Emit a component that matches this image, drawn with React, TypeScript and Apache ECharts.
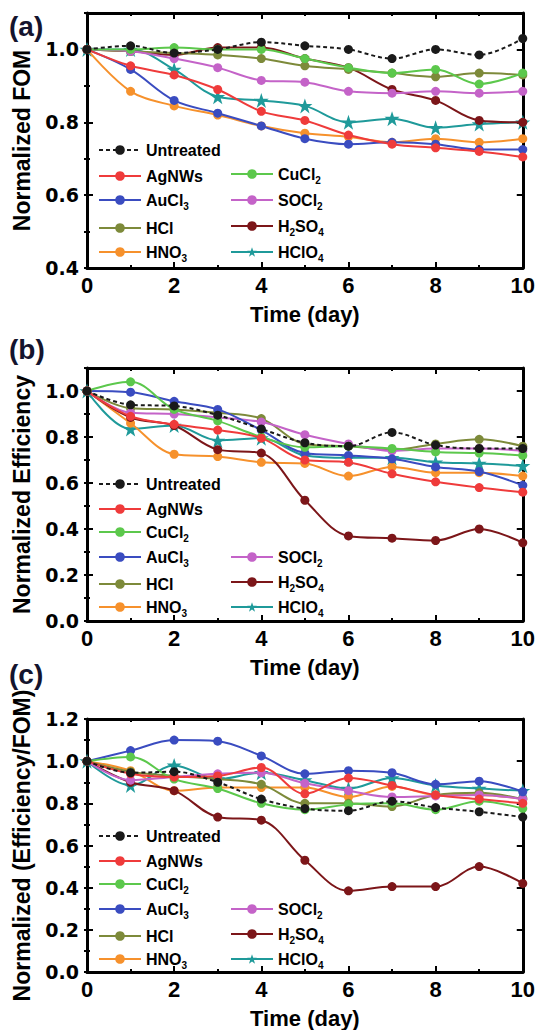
import React, { useEffect, useRef } from 'react';
import * as echarts from 'echarts';

const days = [0, 1, 2, 3, 4, 5, 6, 7, 8, 9, 10];
const xTickLabels = ['0', '2', '4', '6', '8', '10'];
const yTicksA = [0.4, 0.6, 0.8, 1.0];
const yTicksB = [0.0, 0.2, 0.4, 0.6, 0.8, 1.0];
const yTicksC = [0.0, 0.2, 0.4, 0.6, 0.8, 1.0, 1.2];

const seriesNames = ['Untreated', 'AgNWs', 'CuCl2', 'AuCl3', 'SOCl2', 'HCl', 'H2SO4', 'HNO3', 'HClO4'];
const seriesColors = ['#1a1a1a', '#ef3b3b', '#5cc84c', '#3a4cc0', '#c463c8', '#7d8a3a', '#7c1619', '#f6912c', '#1f9a9a'];

// (a) Normalized FOM
const fomUntreated = [1.0, 1.01, 0.99, 1.0, 1.02, 1.01, 1.0, 0.975, 1.0, 0.985, 1.03];
const fomAgNWs = [1.0, 0.955, 0.93, 0.89, 0.83, 0.805, 0.765, 0.74, 0.73, 0.72, 0.705];
const fomCuCl2 = [1.0, 1.0, 1.005, 1.0, 1.0, 0.975, 0.95, 0.935, 0.945, 0.905, 0.935];
const fomAuCl3 = [1.0, 0.945, 0.86, 0.825, 0.79, 0.755, 0.74, 0.745, 0.74, 0.725, 0.725];
const fomSOCl2 = [1.0, 0.995, 0.975, 0.95, 0.915, 0.91, 0.885, 0.88, 0.885, 0.88, 0.885];
const fomHCl = [1.0, 0.995, 0.99, 0.985, 0.975, 0.955, 0.945, 0.935, 0.925, 0.935, 0.93];
const fomH2SO4 = [1.0, 0.995, 0.985, 1.005, 1.005, 0.975, 0.95, 0.89, 0.86, 0.805, 0.8];
const fomHNO3 = [1.0, 0.885, 0.845, 0.82, 0.79, 0.77, 0.76, 0.745, 0.755, 0.745, 0.755];
const fomHClO4 = [1.0, 1.0, 0.945, 0.87, 0.86, 0.845, 0.8, 0.81, 0.785, 0.795, 0.8];

// (b) Normalized Efficiency
const effUntreated = [1.0, 0.94, 0.935, 0.895, 0.835, 0.775, 0.76, 0.82, 0.765, 0.75, 0.75];
const effAgNWs = [1.0, 0.89, 0.855, 0.83, 0.795, 0.7, 0.69, 0.64, 0.605, 0.58, 0.56];
const effCuCl2 = [1.0, 1.04, 0.92, 0.87, 0.8, 0.755, 0.76, 0.75, 0.735, 0.73, 0.72];
const effAuCl3 = [1.0, 0.995, 0.955, 0.92, 0.83, 0.73, 0.72, 0.705, 0.67, 0.65, 0.59];
const effSOCl2 = [1.0, 0.905, 0.9, 0.885, 0.865, 0.81, 0.77, 0.74, 0.75, 0.75, 0.74];
const effHCl = [1.0, 0.925, 0.92, 0.905, 0.88, 0.77, 0.76, 0.745, 0.77, 0.79, 0.76];
const effH2SO4 = [1.0, 0.885, 0.85, 0.745, 0.73, 0.525, 0.37, 0.36, 0.35, 0.4, 0.34];
const effHNO3 = [1.0, 0.86, 0.725, 0.715, 0.69, 0.685, 0.63, 0.67, 0.645, 0.645, 0.63];
const effHClO4 = [1.0, 0.835, 0.85, 0.785, 0.795, 0.72, 0.71, 0.71, 0.69, 0.685, 0.675];

// (c) Normalized (Efficiency/FOM)
const ratUntreated = [1.0, 0.945, 0.95, 0.9, 0.82, 0.775, 0.765, 0.81, 0.78, 0.76, 0.735];
const ratAgNWs = [1.0, 0.94, 0.925, 0.93, 0.97, 0.845, 0.92, 0.885, 0.84, 0.82, 0.8];
const ratCuCl2 = [1.0, 1.02, 0.915, 0.87, 0.8, 0.77, 0.795, 0.8, 0.77, 0.81, 0.775];
const ratAuCl3 = [1.0, 1.05, 1.1, 1.095, 1.025, 0.94, 0.955, 0.945, 0.89, 0.905, 0.855];
const ratSOCl2 = [1.0, 0.91, 0.925, 0.94, 0.945, 0.895, 0.86, 0.83, 0.835, 0.84, 0.82];
const ratHCl = [1.0, 0.95, 0.93, 0.915, 0.89, 0.8, 0.8, 0.785, 0.84, 0.85, 0.82];
const ratH2SO4 = [1.0, 0.9, 0.86, 0.735, 0.72, 0.53, 0.385, 0.405, 0.405, 0.5, 0.42];
const ratHNO3 = [1.0, 0.955, 0.86, 0.875, 0.875, 0.875, 0.83, 0.88, 0.84, 0.84, 0.82];
const ratHClO4 = [1.0, 0.885, 0.98, 0.915, 0.945, 0.91, 0.87, 0.92, 0.885, 0.87, 0.86];

const panelValues = [
  [fomUntreated, fomAgNWs, fomCuCl2, fomAuCl3, fomSOCl2, fomHCl, fomH2SO4, fomHNO3, fomHClO4],
  [effUntreated, effAgNWs, effCuCl2, effAuCl3, effSOCl2, effHCl, effH2SO4, effHNO3, effHClO4],
  [ratUntreated, ratAgNWs, ratCuCl2, ratAuCl3, ratSOCl2, ratHCl, ratH2SO4, ratHNO3, ratHClO4],
];

// legend layout: [name, column, row]
const legendA: [string, number, number][] = [
  ['Untreated', 0, 0], ['AgNWs', 0, 1], ['CuCl2', 1, 1], ['AuCl3', 0, 2], ['SOCl2', 1, 2],
  ['HCl', 0, 3], ['H2SO4', 1, 3], ['HNO3', 0, 4], ['HClO4', 1, 4],
];
const legendBC: [string, number, number][] = [
  ['Untreated', 0, 0], ['AgNWs', 0, 1], ['CuCl2', 0, 2], ['AuCl3', 0, 3], ['SOCl2', 1, 3],
  ['HCl', 0, 4], ['H2SO4', 1, 4], ['HNO3', 0, 5], ['HClO4', 1, 5],
];

const FONT = '"Liberation Sans", Arial, Helvetica, sans-serif';
const TICKFONT = '"DejaVu Sans", "Liberation Sans", sans-serif';
const STAR = 'path://M50,2 L61.8,36.2 L97.6,36.2 L68.6,57.4 L79.6,92 L50,70.6 L20.4,92 L31.4,57.4 L2.4,36.2 L38.2,36.2 Z';

const richName: Record<string, string> = {
  Untreated: '{n|Untreated}',
  AgNWs: '{n|AgNWs}',
  CuCl2: '{n|CuCl}{s|2}',
  AuCl3: '{n|AuCl}{s|3}',
  SOCl2: '{n|SOCl}{s|2}',
  HCl: '{n|HCl}',
  H2SO4: '{n|H}{s|2}{n|SO}{s|4}',
  HNO3: '{n|HNO}{s|3}',
  HClO4: '{n|HClO}{s|4}',
};

const panels = [
  { top: 13, height: 255, min: 0.4, max: 1.1, ticks: yTicksA, yName: 'Normalized FOM', label: '(a)', labelY: 27,
    legendItems: legendA, rowY0: 150, rowStep: 26 },
  { top: 368, height: 253, min: 0, max: 1.1, ticks: yTicksB, yName: 'Normalized Efficiency', label: '(b)', labelY: 350,
    legendItems: legendBC, rowY0: 484, rowStep: 25 },
  { top: 719, height: 256, min: 0, max: 1.2, ticks: yTicksC, yName: 'Normalized (Efficiency/FOM)', label: '(c)', labelY: 675,
    legendItems: legendBC, rowY0: 836, rowStep: 25 },
];
const legendColLeft = [98, 230];

function buildOption() {
  const grid: any[] = [];
  const xAxis: any[] = [];
  const yAxis: any[] = [];
  const series: any[] = [];
  const legend: any[] = [];
  const graphic: any[] = [];
  const tickStyle = { color: '#000', width: 2 };
  const lineStyle = { color: '#000', width: 3 };

  panels.forEach((p, gi) => {
    grid.push({ left: 87, right: 15, top: p.top, height: p.height, show: false });
    const xBase = {
      gridIndex: gi, type: 'value', min: 0, max: 10, interval: 2,
      axisLine: { show: true, onZero: false, lineStyle },
      axisTick: { show: true, inside: true, length: 6, lineStyle: tickStyle },
      minorTick: { show: true, splitNumber: 2, length: 3, lineStyle: tickStyle },
      splitLine: { show: false }, minorSplitLine: { show: false },
    };
    xAxis.push({
      ...xBase, position: 'bottom',
      name: 'Time (day)', nameLocation: 'middle', nameGap: 35,
      nameTextStyle: { fontFamily: FONT, fontSize: 22, fontWeight: 'bold', color: '#000' },
      axisLabel: {
        show: true, margin: 6, fontFamily: FONT, fontSize: 22, fontWeight: 'bold', color: '#000',
        formatter: (v: number) => (xTickLabels.includes(String(v)) ? String(v) : ''),
      },
    });
    xAxis.push({ ...xBase, position: 'top', axisLabel: { show: false } });

    const yBase = {
      gridIndex: gi, type: 'value', min: p.min, max: p.max, interval: 0.2,
      axisLine: { show: true, onZero: false, lineStyle },
      axisTick: { show: true, inside: true, length: 6, lineStyle: tickStyle },
      splitLine: { show: false },
    };
    yAxis.push({
      ...yBase, position: 'left',
      name: p.yName, nameLocation: 'middle', nameGap: 54,
      nameTextStyle: { fontFamily: FONT, fontSize: 23, fontWeight: 'bold', color: '#000' },
      axisLabel: {
        show: true, margin: 8, fontFamily: TICKFONT, fontSize: 19, fontWeight: 'bold', color: '#000',
        formatter: (v: number) => (p.ticks.some((t) => Math.abs(t - v) < 1e-6) ? v.toFixed(1) : ''),
      },
    });
    yAxis.push({ ...yBase, position: 'right', axisLabel: { show: false } });
    const yMinor = {
      gridIndex: gi, type: 'value', min: p.min, max: p.max, interval: 0.1,
      axisLine: { show: false },
      axisTick: { show: true, inside: true, length: 3, lineStyle: tickStyle },
      axisLabel: { show: false }, splitLine: { show: false },
    };
    yAxis.push({ ...yMinor, position: 'left' });
    yAxis.push({ ...yMinor, position: 'right' });

    seriesNames.forEach((name, si) => {
      const vals = panelValues[gi][si];
      const isStar = name === 'HClO4';
      series.push({
        type: 'line', name, xAxisIndex: gi * 2, yAxisIndex: gi * 4,
        data: days.map((d, i) => [d, vals[i]]),
        smooth: 0.35,
        symbol: isStar ? STAR : 'circle',
        symbolSize: isStar ? 15 : 9,
        itemStyle: { color: seriesColors[si] },
        lineStyle: { color: seriesColors[si], width: 2, type: name === 'Untreated' ? [4, 3] : 'solid' },
        z: 10 - si,
      });
    });

    p.legendItems.forEach(([name, col, row]) => {
      const hasSub = /\d/.test(name);
      legend.push({
        orient: 'horizontal', left: legendColLeft[col], top: p.rowY0 + row * p.rowStep - (hasSub ? 13 : 8),
        padding: 0, itemWidth: 42, itemHeight: 12, selectedMode: false,
        data: [name],
        formatter: (nm: string) => richName[nm] || nm,
        textStyle: {
          rich: {
            n: { fontFamily: FONT, fontSize: 16, fontWeight: 'bold', color: '#000', lineHeight: 22 },
            s: { fontFamily: FONT, fontSize: 10, fontWeight: 'bold', color: '#000', lineHeight: 10, padding: [12, 0, 0, 0] },
          },
        },
      });
    });

    graphic.push({
      type: 'text', left: 9, top: p.labelY - 15,
      style: { text: p.label, font: `bold 28px ${FONT}`, fill: '#14142e' },
    });
  });

  return {
    animation: false,
    backgroundColor: '#fff',
    grid, xAxis, yAxis, series, legend, graphic,
  };
}

export default function App() {
  const ref = useRef<HTMLDivElement>(null);
  useEffect(() => {
    document.body.style.margin = '0';
    if (!ref.current) return;
    const chart = echarts.init(ref.current, undefined, { renderer: 'svg' });
    chart.setOption(buildOption() as any);
    return () => chart.dispose();
  }, []);
  return <div ref={ref} style={{ width: 538, height: 1030, position: 'absolute', left: 0, top: 0 }} />;
}
